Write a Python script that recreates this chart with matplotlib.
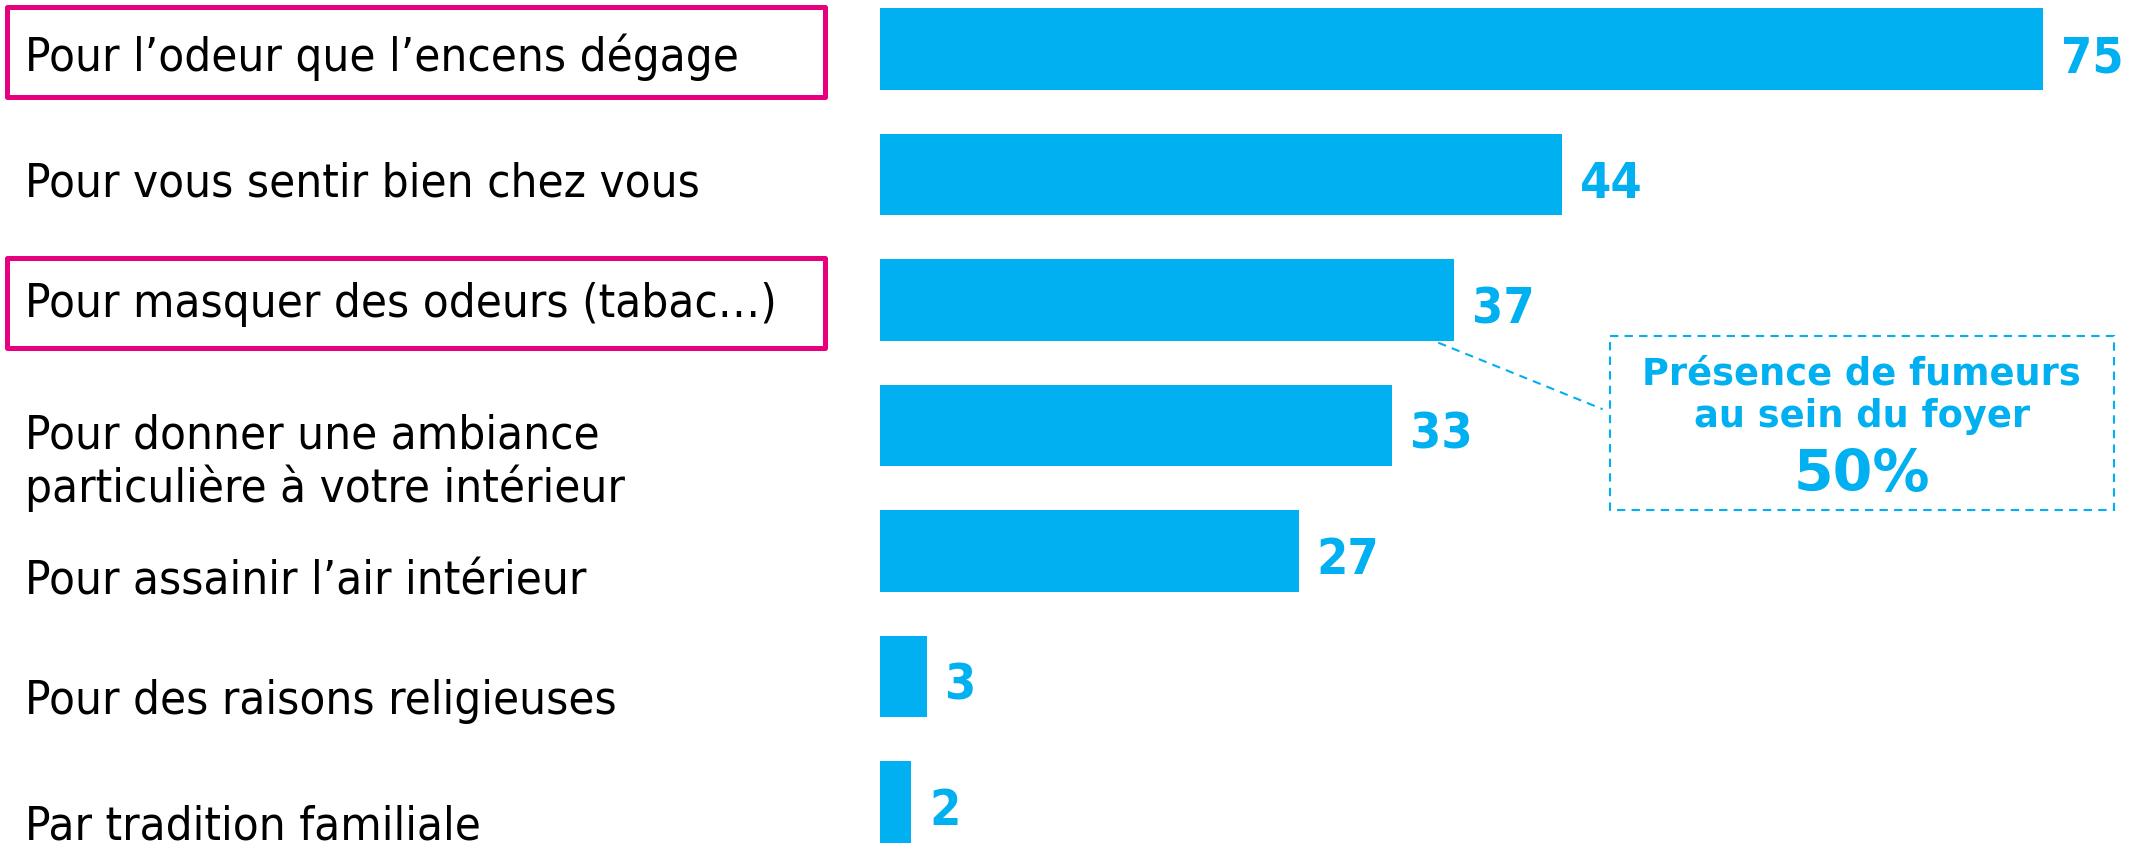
import matplotlib.pyplot as plt
import matplotlib.font_manager as fm
from matplotlib import transforms
from matplotlib.patches import Rectangle

# Data
categories = [
    "Pour l\u2019odeur que l\u2019encens d\u00e9gage",
    "Pour vous sentir bien chez vous",
    "Pour masquer des odeurs (tabac\u2026)",
    "Pour donner une ambiance\nparticuli\u00e8re \u00e0 votre int\u00e9rieur",
    "Pour assainir l\u2019air int\u00e9rieur",
    "Pour des raisons religieuses",
    "Par tradition familiale",
]
values = [75, 44, 37, 33, 27, 3, 2]
highlighted = [0, 2]
callout_lines = ["Pr\u00e9sence de fumeurs", "au sein du foyer"]
callout_value = "50%"

# Style
blue = "#00B0F0"
pink = "#E6007E"
W, H = 2138, 845
bar_left_px = 880
px_per_unit = 15.507
row_px = 125.5
first_row_px = 50

# label vertical shifts (in rows) to follow the original layout
label_shift = [0.06, 0.07, 0.03, 0.29, 0.24, 0.19, 0.19]

# use the condensed DejaVu face if it is installed
has_cond = any(f.name == "DejaVu Sans" and f.stretch == "condensed"
               for f in fm.fontManager.ttflist)
cat_kw = dict(family="DejaVu Sans", color="black")
val_kw = dict(family="DejaVu Sans", color=blue, fontweight="bold")
if has_cond:
    cat_kw.update(fontstretch="condensed", fontsize=34)
    val_kw.update(fontstretch="condensed", fontsize=36)
else:
    cat_kw.update(fontsize=30.5)
    val_kw.update(fontsize=33)

fig = plt.figure(figsize=(W / 100, H / 100), dpi=100)
ax = fig.add_axes([bar_left_px / W, 0, 1 - bar_left_px / W, 1])
ax.set_xlim(0, (W - bar_left_px) / px_per_unit)
ax.set_ylim((H - first_row_px) / row_px, -first_row_px / row_px)
ax.axis("off")

rows = list(range(len(categories)))
bars = ax.barh(rows, values, height=0.653, color=blue)

# value labels
for r, v in zip(rows, values):
    ax.annotate(str(v), xy=(v, r), xytext=(13, -6), textcoords="offset points",
                ha="left", va="center", **val_kw)

# category labels, left side
trans = transforms.blended_transform_factory(fig.transFigure, ax.transData)
for r, (cat, s) in enumerate(zip(categories, label_shift)):
    ax.text(25 / W, r + s, cat, transform=trans, ha="left", va="center",
            linespacing=1.15, **cat_kw)

# pink boxes around highlighted answers
for r in highlighted:
    rect = Rectangle((6.5 / W, r - 0.338), (825 - 6.5) / W, 0.72,
                     transform=trans, fill=False, edgecolor=pink,
                     linewidth=3.6, clip_on=False, joinstyle="round")
    ax.add_patch(rect)

# callout box linked to "masquer des odeurs"
box = Rectangle((47.1, 2.287), 32.5, 1.386, fill=False, edgecolor=blue,
                linewidth=1.5, linestyle=(0, (4, 3)), clip_on=False)
ax.add_patch(box)
ax.plot([36.0, 46.6], [2.34, 2.87], color=blue, linewidth=1.5,
        linestyle=(0, (4, 3)), clip_on=False)
ax.text(63.3, 2.58, callout_lines[0], ha="center", va="center", fontsize=26.5,
        fontweight="bold", color=blue, family="DejaVu Sans")
ax.text(63.3, 2.92, callout_lines[1], ha="center", va="center", fontsize=26.5,
        fontweight="bold", color=blue, family="DejaVu Sans")
ax.text(63.3, 3.39, callout_value, ha="center", va="center", fontsize=41,
        fontweight="bold", color=blue, family="DejaVu Sans")

fig.savefig("out.png", dpi=100)
